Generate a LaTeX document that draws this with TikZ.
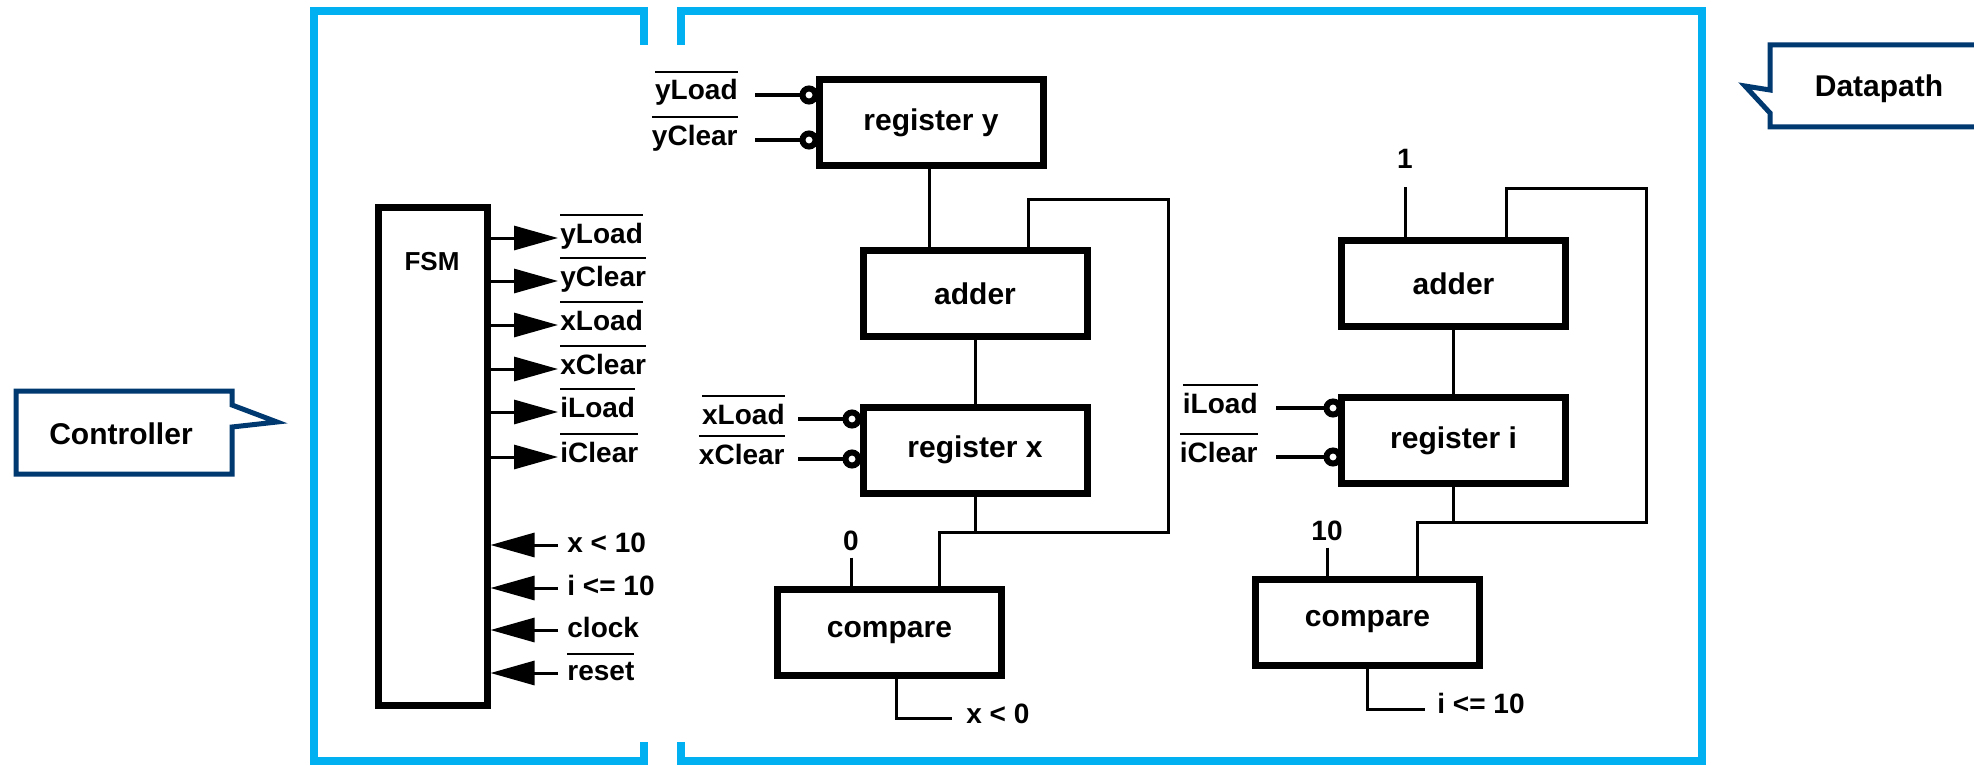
\documentclass[tikz,border=0pt]{standalone}
\usepackage{fontspec}
\setmainfont{Liberation Sans}
\usetikzlibrary{arrows.meta,calc}
\definecolor{frameblue}{RGB}{0,176,240}
\definecolor{navy}{RGB}{0,56,112}
\newcommand\ovl[1]{\vbox{\hrule height 1pt\kern 3.5pt\hbox{#1}}}
\begin{document}
\begin{tikzpicture}[x=0.5pt,y=-0.5pt,
  blk/.style={draw,line width=3.5pt,minimum width=112pt,minimum height=43pt,inner sep=0pt,font=\bfseries\fontsize{15}{17}\selectfont},
  lbl/.style={inner sep=0pt,font=\bfseries\fontsize{14}{16}\selectfont},
  wire/.style={line width=1.5pt},
  inw/.style={line width=2pt},
  bub/.style={circle,draw,line width=3pt,fill=white,minimum size=6.5pt,inner sep=0pt},
  sig/.style={line width=1.5pt,-{Triangle[length=22pt,width=12pt]}},
  frame/.style={draw=frameblue,line width=4pt},
  callout/.style={draw=navy,line width=2.5pt,line join=miter},
  ctext/.style={font=\bfseries\fontsize{15}{18}\selectfont,inner sep=0pt}]
\useasboundingbox (0,0) rectangle (1974,765);

% blue frames
\draw[frame] (644,45) -- (644,11.5) -- (313.5,11.5) -- (313.5,761) -- (644,761) -- (644,742);
\draw[frame] (681,45) -- (681,11.5) -- (1702,11.5) -- (1702,761) -- (681,761) -- (681,742);

% callouts
\draw[callout] (16,391) -- (232,391) -- (232,405) -- (277,422) -- (232,427) -- (232,474) -- (16,474) -- cycle;
\node[ctext] (ctrl) at (121,434) {Controller};
\draw[callout] (1995,45) -- (1770,45) -- (1770,90) -- (1745,86) -- (1770,113) -- (1770,127) -- (1995,127);
\node[ctext] (dp) at (1879,89) {Datapath};

% FSM
\node[draw,line width=3.5pt,minimum width=54.5pt,minimum height=249pt,inner sep=0pt] (fsm) at (432.5,456) {};
\node[lbl,font=\bfseries\fontsize{13}{15}\selectfont] (fsmt) at (432,262) {FSM};

\foreach \yy/\t [count=\k] in {238/yLoad,281/yClear,325/xLoad,369/xClear,412/iLoad,457/iClear}{
  \node[lbl,anchor=base west] (fo\k) at (560,\yy+5) {\ovl{\t}};
  \coordinate (fa\k) at (558,\yy);
  \draw[sig] (fsm.east |- fa\k) -- (fa\k);
}
\foreach \yy/\t [count=\k] in {545/{x < 10},588/{i <= 10},630/{clock},673/{\ovl{reset}}}{
  \node[lbl,anchor=base west] (fi\k) at (567,\yy+7) {\t};
  \coordinate (fb\k) at (558,\yy);
  \draw[sig] (fb\k) -- (fsm.east |- fb\k);
}

% left datapath
\node[blk] (regy) at (931,122.5) {register y};
\node[blk] (addL) at (975,293.5) {adder};
\node[blk] (regx) at (975,450) {register x};
\node[blk] (cmpL) at (889.5,632.5) {compare};

\node[bub] (by1) at (809,95) {};
\node[bub] (by2) at (809,140) {};
\node[lbl,anchor=base east] (ly1) at (738,100) {\ovl{yLoad}};
\node[lbl,anchor=base east] (ly2) at (738,145) {\ovl{yClear}};
\draw[inw] ($(by1.west -| ly1.east)+(8.5pt,0)$) -- (by1.west);
\draw[inw] ($(by2.west -| ly2.east)+(8.5pt,0)$) -- (by2.west);

\node[bub] (bx1) at (852,419) {};
\node[bub] (bx2) at (852,459) {};
\node[lbl,anchor=base east] (lx1) at (785,424) {\ovl{xLoad}};
\node[lbl,anchor=base east] (lx2) at (785,464) {\ovl{xClear}};
\draw[inw] ($(bx1.west -| lx1.east)+(6.5pt,0)$) -- (bx1.west);
\draw[inw] ($(bx2.west -| lx2.east)+(6.5pt,0)$) -- (bx2.west);

\draw[wire] ([xshift=-1pt]regy.south) -- ([xshift=-1pt]regy.south |- addL.north);
\draw[wire] (addL.south) -- (regx.north);
\coordinate (fbL) at (1168,199);
\coordinate (jL) at (939,532);
\draw[wire] ([xshift=26.5pt]addL.north) |- (fbL) |- (jL) -- (jL |- cmpL.north);
\draw[wire] (regx.south) -- (regx.south |- jL);
\node[lbl,anchor=base] (zero) at (851,550) {0};
\draw[wire] ([yshift=-3.5pt]zero.south) -- (zero.south |- cmpL.north);
\coordinate (oL) at (952,718);
\draw[wire] ([xshift=3.25pt]cmpL.south) |- (oL);
\node[lbl,anchor=base west] (xlt0) at (966,723) {x < 0};

% right datapath
\node[blk] (addR) at (1453.5,283.5) {adder};
\node[blk] (regi) at (1453.5,440.5) {register i};
\node[blk] (cmpR) at (1367.5,622) {compare};

\node[bub] (bi1) at (1333,408) {};
\node[bub] (bi2) at (1333,457) {};
\node[lbl,anchor=base east] (li1) at (1258,413) {\ovl{iLoad}};
\node[lbl,anchor=base east] (li2) at (1258,462) {\ovl{iClear}};
\draw[inw] ($(bi1.west -| li1.east)+(9pt,0)$) -- (bi1.west);
\draw[inw] ($(bi2.west -| li2.east)+(9pt,0)$) -- (bi2.west);

\node[lbl,anchor=base] (one) at (1405,168) {1};
\draw[wire] ([yshift=-9.5pt]one.south) -- (one.south |- addR.north);
\draw[wire] (addR.south) -- (regi.north);
\coordinate (fbR) at (1646,188);
\coordinate (jR) at (1417,522);
\draw[wire] ([xshift=26.25pt]addR.north) |- (fbR) |- (jR) -- (jR |- cmpR.north);
\draw[wire] (regi.south) -- (regi.south |- jR);
\node[lbl,anchor=base] (ten) at (1327,540) {10};
\draw[wire] ([yshift=-3.5pt]ten.south) -- (ten.south |- cmpR.north);
\coordinate (oR) at (1425,709);
\draw[wire] (cmpR.south) |- (oR);
\node[lbl,anchor=base west] (ile10) at (1437,713) {i <= 10};
\end{tikzpicture}
\end{document}
